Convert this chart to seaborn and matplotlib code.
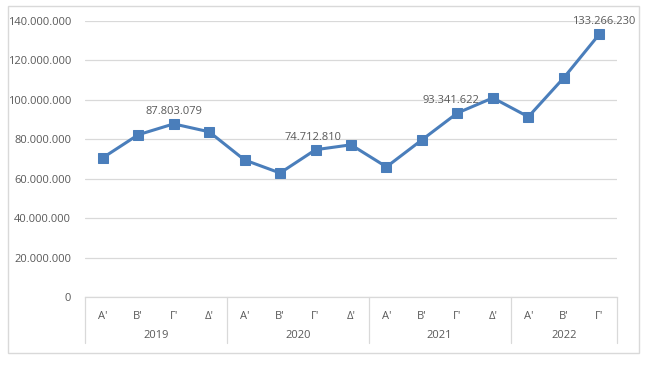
import matplotlib
matplotlib.use('Agg')
import matplotlib.pyplot as plt
import matplotlib.ticker as mticker
import matplotlib.transforms as mtransforms
from matplotlib.patches import Rectangle
import seaborn as sns
import pandas as pd

YEARS = ['2019', '2020', '2021', '2022']
QUARTER_LABELS = ["Α'", "Β'", "Γ'", "Δ'", "Α'", "Β'", "Γ'", "Δ'",
                  "Α'", "Β'", "Γ'", "Δ'", "Α'", "Β'", "Γ'"]
YEAR_OF_POINT = ['2019'] * 4 + ['2020'] * 4 + ['2021'] * 4 + ['2022'] * 3
VALUES = [70600000, 82300000, 87803079, 83800000,
          69500000, 62900000, 74712810, 77200000,
          66000000, 79700000, 93341622, 101000000,
          91400000, 111200000, 133266230]
LABELLED = [2, 6, 10, 14]
LABEL_SHIFT = [0, -2, -4.5, 3]

LINE_COLOR = '#4A7EBB'
TEXT_COLOR = '#595959'
GRID_COLOR = '#D9D9D9'


def dotted(v, pos=None):
    return f'{int(round(v)):,}'.replace(',', '.')


sns.set_theme(style='white')
plt.rcParams['font.family'] = ['Open Sans', 'DejaVu Sans']

df = pd.DataFrame({'idx': range(len(VALUES)), 'value': VALUES,
                   'quarter': QUARTER_LABELS, 'year': YEAR_OF_POINT})

fig = plt.figure(figsize=(6.52, 3.69), dpi=100)
fig.patches.append(Rectangle((8 / 652, 1 - 353 / 369), 631 / 652, 347 / 369,
                             transform=fig.transFigure, fill=False,
                             edgecolor=GRID_COLOR, linewidth=1))
ax = fig.add_axes([85 / 652, 72 / 369, 532 / 652, 276 / 369])

sns.lineplot(data=df, x='idx', y='value', ax=ax, color=LINE_COLOR,
             linewidth=2.2, marker='s', markersize=7, markeredgecolor=LINE_COLOR)

ax.set_ylim(0, 140000000)
ax.set_xlim(-0.5, len(VALUES) - 0.5)
ax.yaxis.set_major_locator(mticker.MultipleLocator(20000000))
ax.yaxis.set_major_formatter(mticker.FuncFormatter(dotted))
ax.grid(axis='y', color=GRID_COLOR, linewidth=0.9)
ax.set_axisbelow(True)
for s in ['top', 'right', 'left']:
    ax.spines[s].set_visible(False)
ax.spines['bottom'].set_color(GRID_COLOR)
ax.spines['bottom'].set_linewidth(0.9)
ax.tick_params(axis='y', length=0, labelsize=8, labelcolor=TEXT_COLOR, pad=10)
ax.set_xticks(df['idx'])
ax.set_xticklabels(df['quarter'])
ax.tick_params(axis='x', length=0, labelsize=8, labelcolor=TEXT_COLOR, pad=10)
ax.set_xlabel('')
ax.set_ylabel('')

for i, dx in zip(LABELLED, LABEL_SHIFT):
    ax.annotate(dotted(VALUES[i]), (i, VALUES[i]), xytext=(dx, 5),
                textcoords='offset points', ha='center', va='bottom',
                fontsize=8, color=TEXT_COLOR, annotation_clip=False)

trans = mtransforms.blended_transform_factory(ax.transData, ax.transAxes)
bounds = [-0.5]
start = 0
for y in YEARS:
    n = YEAR_OF_POINT.count(y)
    ax.text(start + (n - 1) / 2, -39 / 276, y, transform=trans, ha='center',
            va='center', fontsize=8, color=TEXT_COLOR)
    start += n
    bounds.append(start - 0.5)
for b in bounds:
    ax.plot([b, b], [0, -46 / 276], transform=trans, color=GRID_COLOR,
            linewidth=0.9, clip_on=False)

fig.savefig('out.png', dpi=100)
